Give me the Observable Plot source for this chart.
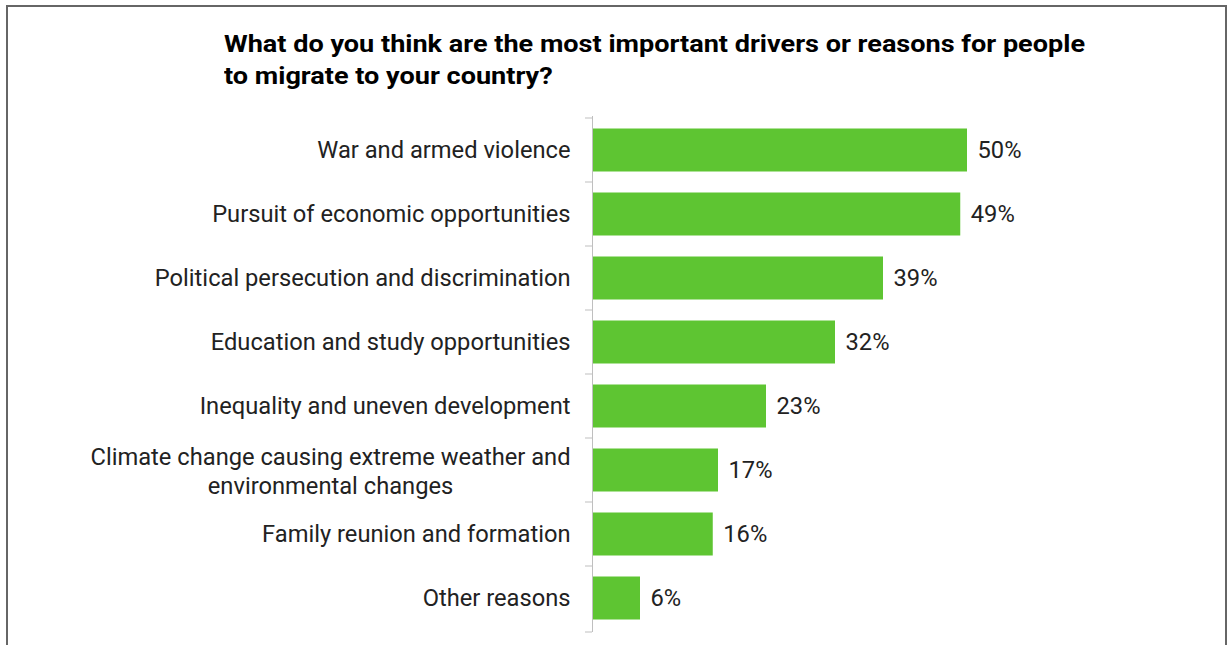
<!DOCTYPE html>
<html><head><meta charset="utf-8">
<script src="https://cdn.jsdelivr.net/npm/d3@7"></script>
<script src="https://cdn.jsdelivr.net/npm/@observablehq/plot@0.6"></script>
<style>
body{margin:0;background:#fff;font-family:Roboto,sans-serif;overflow:hidden;}
#frame{position:absolute;left:6px;top:5px;width:1217px;height:700px;border:2px solid #666;box-sizing:content-box;}
#title{position:absolute;left:224px;top:28px;font-weight:bold;font-size:24px;line-height:32px;color:#000;white-space:nowrap;transform-origin:0 0;}
#chart{position:absolute;left:0;top:100px;}
</style></head><body>
<div id="frame"></div>
<div id="title"><span id="t1">What do you think are the most important drivers or reasons for people</span><br>to migrate to your country?</div>
<div id="chart"></div>
<script>
const categories = [
  "War and armed violence",
  "Pursuit of economic opportunities",
  "Political persecution and discrimination",
  "Education and study opportunities",
  "Inequality and uneven development",
  "Climate change causing extreme weather and\nenvironmental changes",
  "Family reunion and formation",
  "Other reasons"
];
const values = [50.0, 49.1, 38.8, 32.4, 23.2, 16.8, 16.1, 6.4];
const valueLabels = ["50%", "49%", "39%", "32%", "23%", "17%", "16%", "6%"];

// Title: stretch horizontally to match the reference's wide type
const t1 = document.getElementById("t1");
const tw = t1.getBoundingClientRect().width;
document.getElementById("title").style.transform = `scaleX(${861 / tw})`;

const data = categories.map((c, i) => ({category: c, value: values[i], label: valueLabels[i]}));
const FS = 23.7;

const chart = Plot.plot({
  width: 1227,
  height: 545,
  marginTop: 16,
  marginBottom: 13,
  marginLeft: 592,
  marginRight: 260,
  style: {fontFamily: "Roboto, sans-serif", fontSize: FS + "px", color: "#222", background: "transparent", overflow: "visible"},
  x: {domain: [0, 50], axis: null},
  y: {domain: categories, padding: 0, axis: null},
  marks: [
    Plot.barX(data, {x: "value", y: "category", fill: "#5EC532", insetTop: 10.5, insetBottom: 10.5}),
    Plot.text(data, {x: "value", y: "category", text: "label", textAnchor: "start", dx: 10, fill: "#222", fontSize: FS}),
    Plot.axisY({tickSize: 0, tickPadding: 22, fontSize: FS, fill: "#222", label: null}),
    Plot.ruleX([0], {stroke: "#bfbfbf", strokeWidth: 1})
  ]
});
document.getElementById("chart").appendChild(chart);

// Category boundary tick marks (Excel-style), from the library's own scales
const ys = chart.scale("y");
const xs = chart.scale("x");
const x0 = xs.apply(0);
const bounds = ys.domain.map(d => ys.apply(d)).concat([ys.range[1]]);
const svg = d3.select(chart);
svg.append("g").selectAll("line").data(bounds).join("line")
  .attr("x1", x0 - 7).attr("x2", x0)
  .attr("y1", d => d).attr("y2", d => d)
  .attr("stroke", "#bfbfbf").attr("stroke-width", 1);

// Multi-line label: lines centred on each other, block right-aligned, 29px leading
svg.selectAll("text").each(function() {
  const tspans = d3.select(this).selectAll("tspan");
  const n = tspans.size();
  if (n > 1) {
    let w = 0;
    tspans.each(function() { w = Math.max(w, this.getComputedTextLength()); });
    tspans.each(function(_, i) {
      d3.select(this)
        .attr("text-anchor", "middle")
        .attr("x", -w / 2)
        .attr("dy", null)
        .attr("y", (i - (n - 1) / 2) * 29 + 0.32 * FS + 1.5);
    });
  }
});
</script>
</body></html>
